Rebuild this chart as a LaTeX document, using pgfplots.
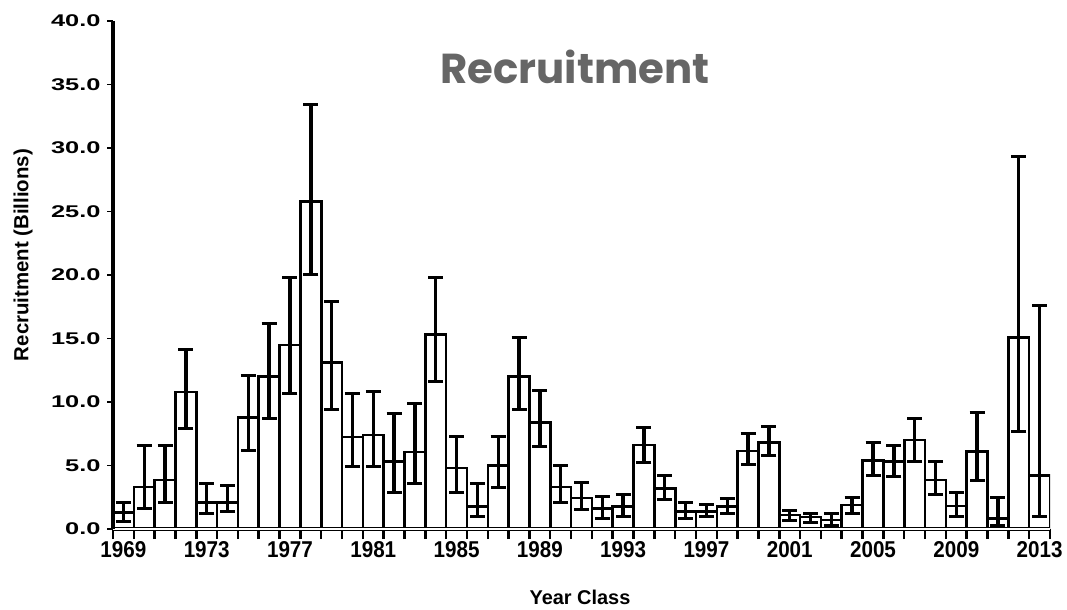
\documentclass[border=0pt]{standalone}
\usepackage{fontspec}
\setmainfont{Liberation Sans}
\newfontfamily\ytickfont{Liberation Sans}[FakeStretch=1.5]
\newfontfamily\xtickfont{Liberation Sans}[FakeStretch=0.9]
\newfontfamily\titlefont{Poppins}
\usepackage{pgfplots}
\pgfplotsset{compat=1.18}
\usepackage{pgfplotstable}
\definecolor{titlegray}{HTML}{666666}
\pgfplotstableread{
year val lo hi
1969 1.3 0.6 2.1
1970 3.3 1.65 6.6
1971 3.85 2.05 6.6
1972 10.8 7.95 14.1
1973 2.1 1.25 3.6
1974 2.1 1.35 3.45
1975 8.8 6.2 12.1
1976 12.0 8.7 16.2
1977 14.5 10.7 19.8
1978 25.8 20.0 33.4
1979 13.1 9.4 17.9
1980 7.25 4.9 10.7
1981 7.4 4.9 10.8
1982 5.3 2.9 9.1
1983 6.05 3.6 9.9
1984 15.3 11.6 19.8
1985 4.8 2.9 7.3
1986 1.75 0.95 3.6
1987 5.0 3.3 7.25
1988 12.0 9.4 15.1
1989 8.4 6.5 10.9
1990 3.3 2.1 5.0
1991 2.45 1.5 3.7
1992 1.6 0.85 2.55
1993 1.75 1.0 2.7
1994 6.6 5.2 8.0
1995 3.2 2.35 4.2
1996 1.4 0.85 2.1
1997 1.4 0.95 1.95
1998 1.75 1.25 2.4
1999 6.15 5.1 7.55
2000 6.8 5.8 8.05
2001 1.1 0.7 1.45
2002 0.95 0.55 1.25
2003 0.7 0.3 1.25
2004 1.9 1.25 2.5
2005 5.4 4.2 6.8
2006 5.3 4.1 6.6
2007 7.0 5.3 8.7
2008 3.85 2.7 5.3
2009 1.8 0.95 2.9
2010 6.1 3.85 9.2
2011 0.85 0.3 2.5
2012 15.1 7.65 29.3
2013 4.2 0.95 17.6
}\datatable
\begin{document}
\begin{tikzpicture}
\path[use as bounding box] (0,0) rectangle (1067bp,610bp);
\begin{axis}[
  at={(113bp,81bp)}, anchor=south west,
  scale only axis, width=937bp, height=508bp,
  xmin=1968.5, xmax=2013.5, ymin=0, ymax=40,
  axis x line=bottom, axis y line=left,
  axis line style={-},
  x axis line style={double, double distance=2.5bp, line width=1bp},
  y axis line style={line width=3.2bp},
  axis on top=true,
  xtick={1969,1973,...,2013},
  major x tick style={draw=none},
  minor xtick={1968.5,1969.5,...,2013.5},
  minor x tick style={line width=2.5bp, black},
  minor tick length=10bp,
  ytick={0,5,...,40},
  major tick length=6bp,
  tick align=outside,
  y tick style={line width=1.8bp, black},
  /pgf/number format/assume math mode=true,
  yticklabel style={font=\ytickfont\bfseries\fontsize{17}{19}\selectfont, xshift=-3bp,
    /pgf/number format/.cd, fixed, fixed zerofill, precision=1},
  xticklabel style={font=\xtickfont\bfseries\fontsize{23}{25}\selectfont, yshift=-3bp,
    /pgf/number format/set thousands separator={}},
]
\addplot[ybar, bar width=1, fill=white, draw=black, line width=2.6bp,
  error bars/.cd, y dir=both, y explicit,
  error bar style={line width=3.4bp, black},
  error mark options={rotate=90, mark size=7.5bp, line width=3bp, black}]
  table[x=year, y=val,
    y error plus expr=\thisrow{hi}-\thisrow{val},
    y error minus expr=\thisrow{val}-\thisrow{lo}] \datatable;
\end{axis}
\node[font=\titlefont\bfseries\fontsize{42}{46}\selectfont, text=titlegray] at (575bp,543bp) {Recruitment};
\node[rotate=90, font=\bfseries\fontsize{20.5}{22}\selectfont] at (23bp,355bp) {Recruitment (Billions)};
\node[font=\bfseries\fontsize{20}{22}\selectfont] at (580bp,13bp) {Year Class};
\end{tikzpicture}
\end{document}
